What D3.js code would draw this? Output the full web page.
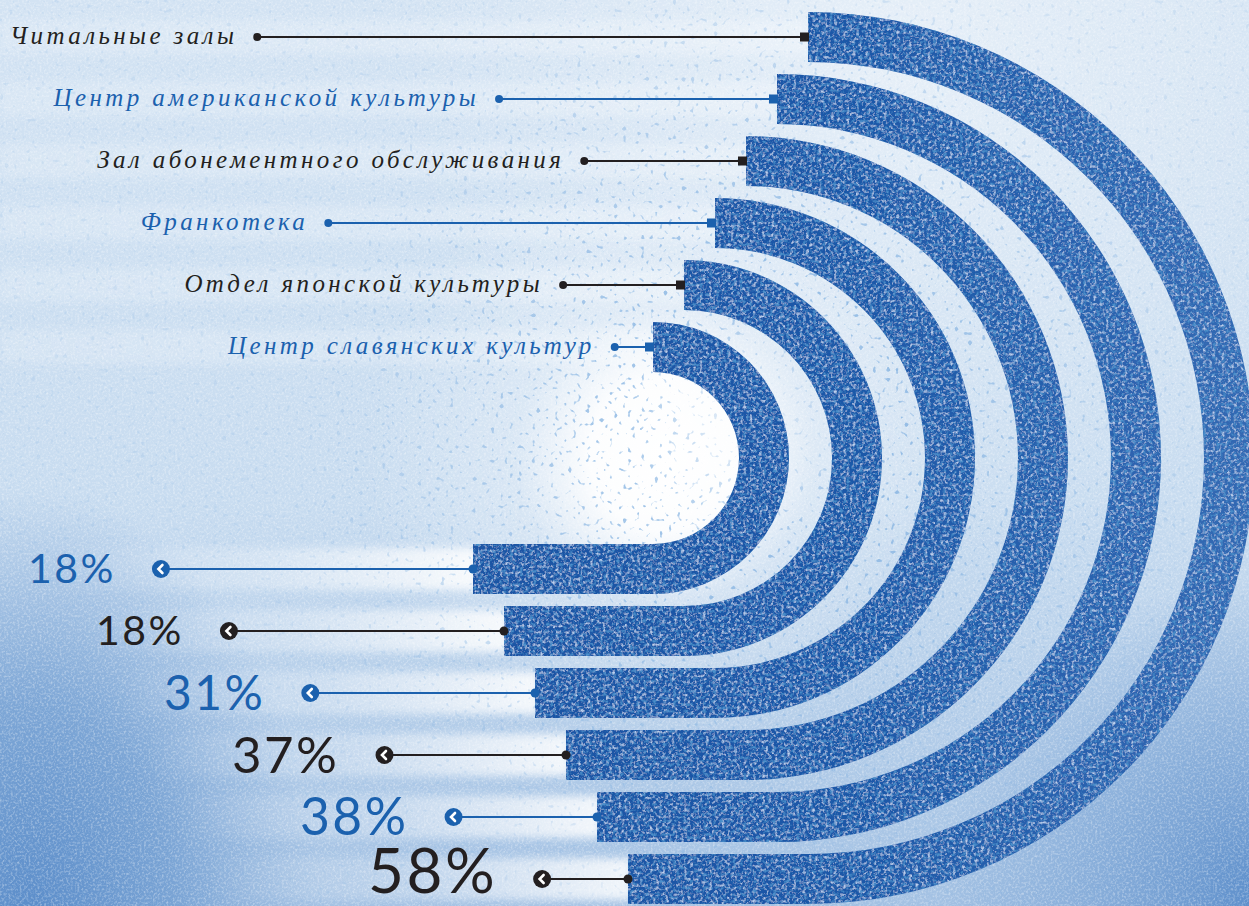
<!DOCTYPE html>
<html><head><meta charset="utf-8">
<script src="https://cdn.jsdelivr.net/npm/d3@7"></script>
<style>html,body{margin:0;padding:0;background:#d2e2f2;overflow:hidden}</style>
</head><body><div id="chart"></div>
<script>
// ---- data ----
const categories = ["Читальные залы","Центр американской культуры","Зал абонементного обслуживания","Франкотека","Отдел японской культуры","Центр славянских культур"];
const values = [58, 38, 37, 31, 18, 18];
const valueLabels = values.map(v => v + "%");

// ---- layout ----
const W = 1249, H = 906;
const cy = 458, band = 50, tail = 180;
const n = categories.length;
const BLACK = "#231f20", BLUE = "#1b61ae";
const colorOf = i => (i % 2 === 0 ? BLACK : BLUE);

const rScale = d3.scaleLinear().domain([0, n - 1]).range([446, 136]);   // outer radius per ring
const cxScale = d3.scaleLinear().domain([0, n - 1]).range([808, 653]);  // ring centre x
const topLabelX = d3.scaleLinear().domain([0, n - 1]).range([10, 228]);
const pctX = d3.scaleLinear().domain([n - 1, 0]).range([28, 368]);
const fontScale = d3.scaleLinear().domain([18, 58]).range([41, 62]);

const svg = d3.select("#chart").append("svg").attr("width", W).attr("height", H)
  .style("display", "block");
const defs = svg.append("defs");

// background gradients
const vg = defs.append("linearGradient").attr("id", "bgV").attr("x1", 0).attr("y1", 0).attr("x2", 0).attr("y2", 1);
vg.append("stop").attr("offset", "0").attr("stop-color", "#d3e3f3");
vg.append("stop").attr("offset", "0.55").attr("stop-color", "#c8dcf0");
vg.append("stop").attr("offset", "1").attr("stop-color", "#a3c1e3");

const glow = defs.append("radialGradient").attr("id", "glow").attr("gradientUnits", "userSpaceOnUse")
  .attr("cx", 665).attr("cy", 455).attr("r", 300);
glow.append("stop").attr("offset", "0").attr("stop-color", "#ffffff").attr("stop-opacity", 1);
glow.append("stop").attr("offset", "0.25").attr("stop-color", "#ffffff").attr("stop-opacity", 0.95);
glow.append("stop").attr("offset", "0.5").attr("stop-color", "#ffffff").attr("stop-opacity", 0.3);
glow.append("stop").attr("offset", "1").attr("stop-color", "#ffffff").attr("stop-opacity", 0);

const topGlow = defs.append("radialGradient").attr("id", "topGlow").attr("gradientUnits", "userSpaceOnUse")
  .attr("cx", 900).attr("cy", 60).attr("r", 500);
topGlow.append("stop").attr("offset", "0").attr("stop-color", "#ffffff").attr("stop-opacity", 0.45);
topGlow.append("stop").attr("offset", "1").attr("stop-color", "#ffffff").attr("stop-opacity", 0);

const bl = defs.append("radialGradient").attr("id", "bl").attr("gradientUnits", "userSpaceOnUse")
  .attr("cx", 30).attr("cy", 920).attr("r", 360).attr("gradientTransform", "translate(30,920) scale(0.8,1.2) translate(-30,-920)");
bl.append("stop").attr("offset", "0").attr("stop-color", "#5a8cc9").attr("stop-opacity", 1);
bl.append("stop").attr("offset", "0.5").attr("stop-color", "#6b99cf").attr("stop-opacity", 0.75);
bl.append("stop").attr("offset", "1").attr("stop-color", "#7ea6d6").attr("stop-opacity", 0);

const br = defs.append("radialGradient").attr("id", "br").attr("gradientUnits", "userSpaceOnUse")
  .attr("cx", 1260).attr("cy", 900).attr("r", 320);
br.append("stop").attr("offset", "0").attr("stop-color", "#5b8dca").attr("stop-opacity", 1);
br.append("stop").attr("offset", "0.55").attr("stop-color", "#78a2d4").attr("stop-opacity", 0.6);
br.append("stop").attr("offset", "1").attr("stop-color", "#7ba4d5").attr("stop-opacity", 0);

const stripe = defs.append("linearGradient").attr("id", "stripe").attr("x1", 0).attr("x2", 1).attr("y1", 0).attr("y2", 0);
stripe.append("stop").attr("offset", "0").attr("stop-color", "#ffffff").attr("stop-opacity", 0);
stripe.append("stop").attr("offset", "0.5").attr("stop-color", "#ffffff").attr("stop-opacity", 0.3);
stripe.append("stop").attr("offset", "1").attr("stop-color", "#ffffff").attr("stop-opacity", 0.85);

const stripeTop = defs.append("linearGradient").attr("id", "stripeTop").attr("x1", 0).attr("x2", 1).attr("y1", 0).attr("y2", 0);
stripeTop.append("stop").attr("offset", "0").attr("stop-color", "#ffffff").attr("stop-opacity", 0.18);
stripeTop.append("stop").attr("offset", "1").attr("stop-color", "#ffffff").attr("stop-opacity", 0.28);

const blur = defs.append("filter").attr("id", "soft").attr("x", "-5%").attr("y", "-50%").attr("width", "110%").attr("height", "200%");
blur.append("feGaussianBlur").attr("stdDeviation", 4);

// ring gradient (darker left, lighter/faded at far right)
const rg = defs.append("linearGradient").attr("id", "ringG").attr("gradientUnits", "userSpaceOnUse")
  .attr("x1", 450).attr("x2", 1250).attr("y1", 0).attr("y2", 0);
rg.append("stop").attr("offset", "0").attr("stop-color", "#1a54a4");
rg.append("stop").attr("offset", "0.5").attr("stop-color", "#1d58a8");
rg.append("stop").attr("offset", "1").attr("stop-color", "#3469b3");

// grain filter for rings (coarse, light-blue mottling)
const gf = defs.append("filter").attr("id", "grain").attr("x", 0).attr("y", 0).attr("width", "100%").attr("height", "100%");
gf.append("feTurbulence").attr("type", "fractalNoise").attr("baseFrequency", 0.32).attr("numOctaves", 3).attr("seed", 4).attr("result", "n");
gf.append("feColorMatrix").attr("in", "n").attr("type", "matrix")
  .attr("values", "0 0 0 0 0.5  0 0 0 0 0.64  0 0 0 0 0.86  3.0 0 0 0 -1.5").attr("result", "sp");
gf.append("feComposite").attr("in", "sp").attr("in2", "SourceGraphic").attr("operator", "in").attr("result", "sp2");
gf.append("feTurbulence").attr("type", "fractalNoise").attr("baseFrequency", 0.3).attr("numOctaves", 2).attr("seed", 11).attr("result", "n2");
gf.append("feColorMatrix").attr("in", "n2").attr("type", "matrix")
  .attr("values", "0 0 0 0 0.07  0 0 0 0 0.28  0 0 0 0 0.6  3 0 0 0 -1.45").attr("result", "dk");
gf.append("feComposite").attr("in", "dk").attr("in2", "SourceGraphic").attr("operator", "in").attr("result", "dk2");
const gm = gf.append("feMerge");
gm.append("feMergeNode").attr("in", "SourceGraphic");
gm.append("feMergeNode").attr("in", "sp2");
gm.append("feMergeNode").attr("in", "dk2");

// background grain
const bf = defs.append("filter").attr("id", "bgGrain").attr("x", 0).attr("y", 0).attr("width", "100%").attr("height", "100%");
bf.append("feTurbulence").attr("type", "fractalNoise").attr("baseFrequency", 0.45).attr("numOctaves", 2).attr("seed", 9).attr("result", "n");
bf.append("feColorMatrix").attr("in", "n").attr("type", "matrix")
  .attr("values", "0 0 0 0 1  0 0 0 0 1  0 0 0 0 1  1.8 0 0 0 -0.8");

// sprayed dots
const sf = defs.append("filter").attr("id", "spray").attr("x", 0).attr("y", 0).attr("width", "100%").attr("height", "100%");
sf.append("feTurbulence").attr("type", "fractalNoise").attr("baseFrequency", 0.22).attr("numOctaves", 1).attr("seed", 21).attr("result", "n");
sf.append("feColorMatrix").attr("in", "n").attr("type", "matrix")
  .attr("values", "0 0 0 0 0.2  0 0 0 0 0.42  0 0 0 0 0.74  10 0 0 0 -6.3");

const sprayM = defs.append("radialGradient").attr("id", "sprayM").attr("gradientUnits", "userSpaceOnUse")
  .attr("cx", 760).attr("cy", 420).attr("r", 480);
sprayM.append("stop").attr("offset", "0").attr("stop-color", "#fff").attr("stop-opacity", 0.1);
sprayM.append("stop").attr("offset", "0.3").attr("stop-color", "#fff").attr("stop-opacity", 0.9);
sprayM.append("stop").attr("offset", "1").attr("stop-color", "#fff").attr("stop-opacity", 0.2);
defs.append("mask").attr("id", "sprayMask").append("rect").attr("width", W).attr("height", H).attr("fill", "url(#sprayM)");

// ---- background ----
const bg = svg.append("g");
bg.append("rect").attr("width", W).attr("height", H).attr("fill", "url(#bgV)");
bg.append("rect").attr("width", W).attr("height", H).attr("fill", "url(#topGlow)");
bg.append("rect").attr("width", W).attr("height", H).attr("fill", "url(#bl)");
bg.append("rect").attr("width", W).attr("height", H).attr("fill", "url(#br)");

// row stripes
const idx = d3.range(n);
const stripes = bg.append("g").attr("filter", "url(#soft)");
stripes.selectAll(".stTop").data(idx).join("rect")
  .attr("x", 0).attr("y", i => cy - rScale(i) + 8).attr("height", band - 16)
  .attr("width", i => cxScale(i)).attr("fill", "url(#stripeTop)");
stripes.selectAll(".stBot").data(idx).join("rect")
  .attr("x", i => cxScale(i) - tail - 420).attr("y", i => cy + rScale(i) - band + 4).attr("height", band - 8)
  .attr("width", 424).attr("fill", "url(#stripe)");

bg.append("rect").attr("width", W).attr("height", H).attr("fill", "url(#glow)");
bg.append("rect").attr("width", W).attr("height", H).attr("fill", "#fff").attr("filter", "url(#bgGrain)").attr("opacity", 0.5);
bg.append("rect").attr("width", W).attr("height", H).attr("fill", "#fff").attr("filter", "url(#spray)").attr("mask", "url(#sprayMask)").attr("opacity", 0.8);

// ---- rings ----
function ringPath(i) {
  const cx = cxScale(i), R = rScale(i), p = d3.path();
  p.moveTo(cx, cy - R);
  p.arc(cx, cy, R, -Math.PI / 2, Math.PI / 2, false);
  p.lineTo(cx - tail, cy + R);
  p.lineTo(cx - tail, cy + R - band);
  p.lineTo(cx, cy + R - band);
  p.arc(cx, cy, R - band, Math.PI / 2, -Math.PI / 2, true);
  p.closePath();
  return p.toString();
}
svg.append("g").attr("filter", "url(#grain)")
  .selectAll("path").data(idx).join("path")
  .attr("d", ringPath).attr("fill", "url(#ringG)");

// ---- top labels ----
const topG = svg.append("g").attr("font-family", "'Liberation Serif', 'DejaVu Serif', serif")
  .attr("font-style", "italic").attr("font-size", 25);
idx.forEach(i => {
  const y = cy - rScale(i) + band / 2;
  const cx = cxScale(i);
  const t = topG.append("text").attr("x", topLabelX(i)).attr("y", y + 7)
    .attr("fill", colorOf(i)).attr("letter-spacing", "3.4px").text(categories[i]);
  const end = topLabelX(i) + t.node().getComputedTextLength();
  const dx = end + 20;
  topG.append("line").attr("x1", dx).attr("x2", cx - 4).attr("y1", y).attr("y2", y)
    .attr("stroke", colorOf(i)).attr("stroke-width", 2);
  topG.append("circle").attr("cx", dx).attr("cy", y).attr("r", 4).attr("fill", colorOf(i));
  topG.append("rect").attr("x", cx - 8).attr("y", y - 4.5).attr("width", 9).attr("height", 9).attr("fill", colorOf(i));
});

// ---- bottom percentage labels ----
const botG = svg.append("g").attr("font-family", "Lato, 'Open Sans', sans-serif").attr("font-weight", 400);
idx.forEach(i => {
  const y = cy + rScale(i) - band / 2;
  const barEnd = cxScale(i) - tail;
  const fs = fontScale(values[i]);
  const base = Math.min(y + fs * 0.35, H - fs * 0.215);
  const t = botG.append("text").attr("x", pctX(i)).attr("y", base)
    .attr("font-size", fs).attr("fill", colorOf(i)).attr("letter-spacing", "2.5px").text(valueLabels[i]);
  const end = pctX(i) + t.node().getComputedTextLength();
  const mx = end + 45;
  botG.append("line").attr("x1", mx).attr("x2", barEnd).attr("y1", y).attr("y2", y)
    .attr("stroke", colorOf(i)).attr("stroke-width", 2);
  botG.append("circle").attr("cx", barEnd).attr("cy", y).attr("r", 4.5).attr("fill", colorOf(i));
  botG.append("circle").attr("cx", mx).attr("cy", y).attr("r", 9).attr("fill", colorOf(i));
  botG.append("path").attr("d", `M${mx + 1.5},${y - 4} L${mx - 2.5},${y} L${mx + 1.5},${y + 4}`)
    .attr("fill", "none").attr("stroke", "#fff").attr("stroke-width", 2.6).attr("stroke-linecap", "round");
});
</script>
</body></html>
